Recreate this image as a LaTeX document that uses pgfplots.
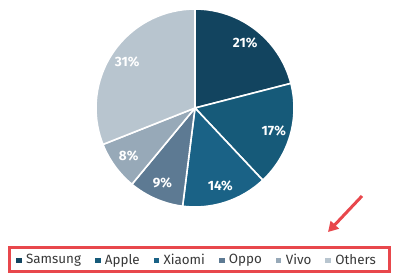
\documentclass[border=0pt]{standalone}
\usepackage{pgfplots}
\pgfplotsset{compat=1.18}
\usepackage{pgfplotstable}
\usepackage{fontspec}
\setmainfont{Fira Sans}
\usetikzlibrary{arrows.meta}

\definecolor{cSamsung}{HTML}{12445F}
\definecolor{cApple}{HTML}{165A79}
\definecolor{cXiaomi}{HTML}{1A6286}
\definecolor{cOppo}{HTML}{5D7A93}
\definecolor{cVivo}{HTML}{97A9B8}
\definecolor{cOthers}{HTML}{B8C5CF}
\definecolor{legred}{HTML}{E8474C}

\pgfplotstableread{
name value color
Samsung 21 cSamsung
Apple 17 cApple
Xiaomi 14 cXiaomi
Oppo 9 cOppo
Vivo 8 cVivo
Others 31 cOthers
}\piedata

\newcommand\lblfont{\bfseries\fontsize{13.5}{14}\selectfont}
\newcommand\cx{195}
\newcommand\cy{108}
\newcommand\R{99}
\newcommand\legsq[1]{\fill[#1] (0pt,-2.3pt) rectangle (4.5pt,2.3pt);}

\begin{document}
\begin{tikzpicture}
\begin{axis}[
  scale only axis, width=407pt, height=274pt,
  xmin=0, xmax=407, ymin=0, ymax=274, y dir=reverse,
  hide axis, clip=false,
  legend columns=6,
  legend style={at={(axis cs:16,260)}, anchor=west, draw=none, fill=none,
    font=\fontsize{13.4}{14}\selectfont, text=black!78,
    inner xsep=0pt,
    nodes={inner xsep=0pt},
    /tikz/every odd column/.append style={column sep=5pt},
    /tikz/every even column/.append style={column sep=14pt}},
]
\path (axis cs:0,0) rectangle (axis cs:407,274);
\def\angA{90}
\pgfplotsforeachungrouped \i in {0,...,5}{
  \pgfplotstablegetelem{\i}{value}\of\piedata \let\val\pgfplotsretval
  \pgfplotstablegetelem{\i}{color}\of\piedata \let\col\pgfplotsretval
  \pgfmathsetmacro\angB{\angA-3.6*\val}
  \pgfmathsetmacro\angM{(\angA+\angB)/2}
  \edef\temp{\noexpand\fill[\col, draw=white, line width=1.6pt, line join=round]
      (axis cs:\cx,\cy) -- ++(\angA:\R pt) arc[start angle=\angA, end angle=\angB, radius=\R pt] -- cycle;
    \noexpand\path (axis cs:\cx,\cy) ++(\angM:82pt) node[text=white, font=\noexpand\lblfont] {\val\noexpand\%};}
  \temp
  \global\let\angA\angB
}
\addlegendimage{legend image code/.code={\legsq{cSamsung}}}
\addlegendentry{Samsung}
\addlegendimage{legend image code/.code={\legsq{cApple}}}
\addlegendentry{Apple}
\addlegendimage{legend image code/.code={\legsq{cXiaomi}}}
\addlegendentry{Xiaomi}
\addlegendimage{legend image code/.code={\legsq{cOppo}}}
\addlegendentry{Oppo}
\addlegendimage{legend image code/.code={\legsq{cVivo}}}
\addlegendentry{Vivo}
\addlegendimage{legend image code/.code={\legsq{cOthers}}}
\addlegendentry{Others}
\draw[legred, line width=3pt] (axis cs:9,247) rectangle (axis cs:389,271.5);
\draw[legred, line width=3pt, -{Triangle[length=10pt,width=11pt]}] (axis cs:362,196) -- (axis cs:328,232);
\end{axis}
\end{tikzpicture}
\end{document}
